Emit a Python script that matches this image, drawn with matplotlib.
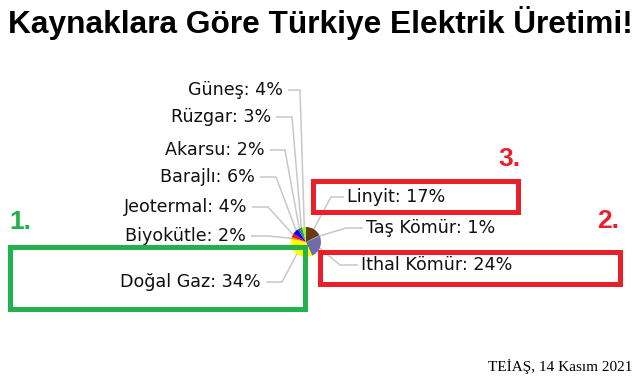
import matplotlib
matplotlib.use("Agg")
import matplotlib.pyplot as plt
import numpy as np
from matplotlib.patches import Rectangle

# data (TEİAŞ, 14 Kasım 2021)
SOURCES = ["Linyit", "Taş Kömür", "İthal Kömür", "Doğal Gaz", "Biyokütle",
           "Jeotermal", "Barajlı", "Akarsu", "Rüzgar", "Güneş"]
SHARES = [17, 1, 24, 34, 2, 4, 6, 2, 3, 4]
COLORS = ["#6b3a10", "#8a8a9a", "#6e6ea6", "#ffff00", "#ff8c00",
          "#ff1010", "#0000ff", "#5a3fd0", "#22aa22", "#a8f040"]

# label placement in pixel coords: (text x, text y, elbow x, ha)
LABEL_POS = {
    "Linyit":      (347, 197, 331, "left"),
    "Taş Kömür":   (366, 228, 346, "left"),
    "İthal Kömür": (361, 265, 340, "left"),
    "Doğal Gaz":   (261, 282, 282, "right"),
    "Biyokütle":   (246, 236, 268, "right"),
    "Jeotermal":   (247, 207, 268, "right"),
    "Barajlı":     (255, 177, 276, "right"),
    "Akarsu":      (265, 150, 285, "right"),
    "Rüzgar":      (271, 117, 292, "right"),
    "Güneş":       (283, 90, 300, "right"),
}

W, H = 641, 380
CX, CY, R = 306, 242, 15
LINE = "#c8c8c8"
GREEN = "#22b14c"
RED = "#e8202a"

fig = plt.figure(figsize=(W / 100, H / 100), dpi=100)
ax = fig.add_axes([0, 0, 1, 1])

wedges, _ = ax.pie(SHARES, colors=COLORS, startangle=-90, counterclock=True,
                   center=(CX, CY), radius=R, frame=True,
                   wedgeprops=dict(linewidth=0))
ax.set_xlim(0, W)
ax.set_ylim(H, 0)
ax.set_aspect("equal")
ax.axis("off")

for w, name, share in zip(wedges, SOURCES, SHARES):
    tx, ty, ex, ha = LABEL_POS[name]
    mid = np.deg2rad((w.theta1 + w.theta2) / 2)
    px = CX + R * 0.85 * np.cos(mid)
    py = CY + R * 0.85 * np.sin(mid)
    hx = tx - 3 if ha == "left" else tx + 5
    ax.plot([px, ex, hx], [py, ty, ty], color=LINE, lw=1.1, zorder=0,
            solid_capstyle="butt")
    ax.text(tx, ty, f"{name}: {share}%", ha=ha, va="center",
            fontsize=12.6, family="DejaVu Sans", color="#111111")

# highlight boxes
ax.add_patch(Rectangle((10, 247), 295, 62, fill=False, ec=GREEN, lw=3.6, zorder=3))
ax.add_patch(Rectangle((313, 181), 205, 31, fill=False, ec=RED, lw=3.6, zorder=3))
ax.add_patch(Rectangle((320, 252), 300, 32, fill=False, ec=RED, lw=3.6, zorder=3))

ax.text(9, 222, "1.", color=GREEN, fontsize=19, fontweight="bold",
        family="Liberation Sans", ha="left", va="center")
ax.text(498, 159, "3.", color=RED, fontsize=19, fontweight="bold",
        family="Liberation Sans", ha="left", va="center")
ax.text(597, 221, "2.", color=RED, fontsize=19, fontweight="bold",
        family="Liberation Sans", ha="left", va="center")

ax.text(W / 2, 23, "Kaynaklara Göre Türkiye Elektrik Üretimi!", ha="center",
        va="center", fontsize=22.8, fontweight="bold", family="Liberation Sans")
ax.text(632, 367, "TEİAŞ, 14 Kasım 2021", ha="right", va="center",
        fontsize=11, family="Liberation Serif")

fig.savefig("out.png", dpi=100, facecolor="white")
